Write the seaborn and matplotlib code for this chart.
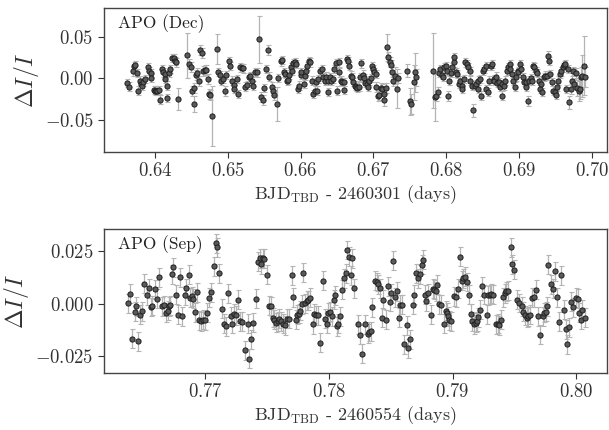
import pandas as pd
import seaborn as sns
import matplotlib.pyplot as plt
from matplotlib.ticker import ScalarFormatter

sns.set_theme(style="ticks")
plt.rcParams['font.family'] = 'serif'
plt.rcParams['font.serif'] = ['cmr10']
plt.rcParams['mathtext.fontset'] = 'cm'
plt.rcParams['axes.formatter.use_mathtext'] = True

# ---- December run (top panel) ----
dec_t = [
    0.6362, 0.6364, 0.6369, 0.6371, 0.6373, 0.6375, 0.6377, 0.6379, 0.6380, 0.6382,
    0.6384, 0.6386, 0.6390, 0.6392, 0.6394, 0.6395, 0.6398, 0.6400, 0.6401, 0.6403,
    0.6405, 0.6407, 0.6409, 0.6411, 0.6413, 0.6414, 0.6416, 0.6417, 0.6419, 0.6421,
    0.6423, 0.6426, 0.6428, 0.6429, 0.6431, 0.6444, 0.6447, 0.6449, 0.6451, 0.6453,
    0.6454, 0.6456, 0.6458, 0.6460, 0.6462, 0.6464, 0.6466, 0.6468, 0.6470, 0.6473,
    0.6474, 0.6476, 0.6478, 0.6485, 0.6487, 0.6489, 0.6491, 0.6493, 0.6496, 0.6497,
    0.6501, 0.6503, 0.6505, 0.6508, 0.6509, 0.6512, 0.6514, 0.6516, 0.6519, 0.6521,
    0.6524, 0.6526, 0.6529, 0.6531, 0.6533, 0.6535, 0.6537, 0.6540, 0.6543, 0.6546,
    0.6548, 0.6550, 0.6553, 0.6555, 0.6557, 0.6560, 0.6562, 0.6564, 0.6567, 0.6569,
    0.6573, 0.6575, 0.6577, 0.6579, 0.6581, 0.6583, 0.6584, 0.6586, 0.6588, 0.6590,
    0.6592, 0.6594, 0.6596, 0.6598, 0.6600, 0.6601, 0.6604, 0.6606, 0.6607, 0.6609,
    0.6611, 0.6613, 0.6615, 0.6617, 0.6619, 0.6621, 0.6622, 0.6624, 0.6627, 0.6629,
    0.6631, 0.6633, 0.6635, 0.6637, 0.6638, 0.6640, 0.6642, 0.6644, 0.6646, 0.6648,
    0.6650, 0.6652, 0.6653, 0.6655, 0.6657, 0.6659, 0.6660, 0.6663, 0.6665, 0.6667,
    0.6669, 0.6671, 0.6672, 0.6674, 0.6676, 0.6678, 0.6680, 0.6681, 0.6683, 0.6685,
    0.6687, 0.6689, 0.6691, 0.6692, 0.6694, 0.6696, 0.6698, 0.6699, 0.6701, 0.6703,
    0.6704, 0.6706, 0.6708, 0.6710, 0.6712, 0.6714, 0.6715, 0.6717, 0.6719, 0.6720,
    0.6722, 0.6724, 0.6725, 0.6727, 0.6730, 0.6732, 0.6734, 0.6746, 0.6750, 0.6752,
    0.6755, 0.6757, 0.6758, 0.6782, 0.6784, 0.6786, 0.6788, 0.6790, 0.6792, 0.6794,
    0.6795, 0.6797, 0.6799, 0.6801,
    0.6802, 0.6804, 0.6806, 0.6808, 0.6810, 0.6811, 0.6813, 0.6815, 0.6817, 0.6819,
    0.6821, 0.6822, 0.6824, 0.6826, 0.6828, 0.6830, 0.6832, 0.6833, 0.6835, 0.6837,
    0.6839, 0.6841, 0.6843, 0.6844, 0.6846, 0.6848, 0.6850, 0.6852, 0.6854, 0.6855,
    0.6857, 0.6859, 0.6861, 0.6863, 0.6865, 0.6866, 0.6868, 0.6870, 0.6872, 0.6874,
    0.6876, 0.6877, 0.6879, 0.6881, 0.6883, 0.6885, 0.6887, 0.6888, 0.6890, 0.6892,
    0.6894, 0.6896, 0.6898, 0.6899, 0.6901, 0.6903, 0.6905, 0.6907, 0.6909, 0.6910,
    0.6912, 0.6914, 0.6916, 0.6918, 0.6919, 0.6921, 0.6923, 0.6925, 0.6927, 0.6929,
    0.6930, 0.6932, 0.6934, 0.6936, 0.6938, 0.6940, 0.6941, 0.6943, 0.6945, 0.6947,
    0.6949, 0.6951, 0.6952, 0.6954, 0.6956, 0.6958, 0.6960, 0.6962, 0.6963, 0.6965,
    0.6967, 0.6969, 0.6971, 0.6973, 0.6974, 0.6976, 0.6978, 0.6980, 0.6982, 0.6984,
    0.6985, 0.6987, 0.6989, 0.6991,
]
dec_flux = [
    -0.0060, -0.0099, 0.0083, 0.0143, 0.0159, 0.0060, -0.0147, -0.0028, -0.0067, -0.0087,
    -0.0048, -0.0008, 0.0139, 0.0091, 0.0060, 0.0004, -0.0139, -0.0147, -0.0147, -0.0147,
    -0.0139, -0.0254, 0.0111, 0.0071, 0.0052, -0.0008, -0.0234, -0.0087, 0.0060, 0.0111,
    0.0242, 0.0242, 0.0210, 0.0191, -0.0250, 0.0278, 0.0171, 0.0131, -0.0155, -0.0306,
    -0.0115, 0.0044, 0.0060, -0.0028, 0.0341, 0.0306, 0.0091, 0.0099, 0.0103, -0.0012,
    -0.0187, -0.0195, -0.0449, 0.0349, 0.0079, 0.0036, -0.0028, -0.0012, -0.0155, 0.0036,
    0.0202, 0.0147, -0.0028, -0.0075, -0.0127, -0.0012, -0.0187, 0.0131, 0.0123, 0.0119,
    -0.0099, -0.0083, 0.0012, 0.0028, -0.0036, -0.0087, 0.0079, 0.0071, 0.0468, -0.0226,
    -0.0258, -0.0115, 0.0111, 0.0337, 0.0020, -0.0099, -0.0155, -0.0199, -0.0306, 0.0004,
    0.0202, 0.0218, 0.0071, 0.0052, -0.0028, -0.0020, 0.0044, 0.0131, 0.0091, 0.0179,
    0.0191, 0.0171, -0.0127, -0.0087, 0.0044, 0.0071, -0.0067, 0.0032, 0.0091, 0.0151,
    0.0210, 0.0191, -0.0028, -0.0187, -0.0147, -0.0048, -0.0147, -0.0008, 0.0091, 0.0111,
    0.0012, -0.0028, 0.0020, -0.0167, -0.0028, 0.0012, -0.0028, -0.0008, 0.0111, 0.0187,
    -0.0147, 0.0071, 0.0191, -0.0028, -0.0048, -0.0139, -0.0048, 0.0230, 0.0210, 0.0151,
    0.0032, 0.0012, -0.0048, -0.0087, -0.0107, -0.0115, -0.0099, 0.0012, 0.0179, 0.0044,
    0.0004, -0.0060, -0.0067, -0.0107, -0.0028, 0.0004, 0.0151, 0.0111, 0.0071, 0.0052,
    -0.0099, -0.0206, -0.0195, -0.0115, -0.0127, -0.0187, -0.0258, -0.0115, 0.0369, 0.0250,
    0.0191, 0.0163, 0.0071, -0.0028, 0.0032, -0.0123, 0.0004, 0.0091, -0.0274, -0.0306,
    -0.0048, 0.0071, 0.0012, 0.0091, -0.0226, -0.0206, -0.0167, 0.0060, 0.0111, 0.0044,
    0.0012, 0.0139, 0.0151, 0.0091,
    -0.0210, -0.0028, 0.0060, 0.0131, 0.0191, 0.0250, 0.0071, 0.0052, -0.0067, -0.0028,
    -0.0087, -0.0127, -0.0008, 0.0191, 0.0171, 0.0131, 0.0091, -0.0028, -0.0087, -0.0385,
    -0.0087, -0.0067, -0.0127, -0.0028, -0.0008, -0.0206, 0.0091, 0.0111, 0.0151, -0.0127,
    -0.0167, -0.0028, 0.0151, 0.0171, -0.0008, -0.0028, 0.0020, -0.0060, -0.0048, -0.0107,
    -0.0067, -0.0206, -0.0087, -0.0028, 0.0091, 0.0131, 0.0171, 0.0111, 0.0052, -0.0028,
    -0.0099, 0.0012, 0.0091, 0.0071, 0.0171, 0.0111, 0.0012, -0.0048, -0.0107, -0.0048,
    -0.0266, -0.0028, 0.0004, -0.0028, 0.0151, 0.0131, 0.0091, 0.0060, -0.0028, -0.0127,
    -0.0067, -0.0167, 0.0012, 0.0032, 0.0032, 0.0270, 0.0210, 0.0052, -0.0048, -0.0147,
    -0.0167, -0.0195, -0.0107, -0.0028, 0.0052, 0.0083, 0.0131, 0.0163, 0.0171, -0.0127,
    0.0111, -0.0286, -0.0127, -0.0028, 0.0091, -0.0067, 0.0060, -0.0115, -0.0147, -0.0127,
    0.0012, 0.0032, 0.0151, 0.0020,
]
dec_err = [
    0.005, 0.005, 0.005, 0.005, 0.005, 0.005, 0.005, 0.005, 0.005, 0.005,
    0.005, 0.005, 0.005, 0.005, 0.005, 0.005, 0.005, 0.005, 0.005, 0.005,
    0.005, 0.005, 0.005, 0.005, 0.005, 0.005, 0.005, 0.005, 0.005, 0.005,
    0.005, 0.005, 0.005, 0.005, 0.013, 0.027, 0.006, 0.006, 0.006, 0.010,
    0.006, 0.006, 0.006, 0.006, 0.006, 0.006, 0.006, 0.006, 0.006, 0.006,
    0.006, 0.006, 0.036, 0.018, 0.005, 0.005, 0.005, 0.005, 0.006, 0.005,
    0.005, 0.005, 0.005, 0.005, 0.005, 0.005, 0.005, 0.005, 0.005, 0.005,
    0.005, 0.005, 0.005, 0.005, 0.005, 0.005, 0.005, 0.005, 0.028, 0.006,
    0.006, 0.005, 0.005, 0.006, 0.005, 0.005, 0.005, 0.006, 0.020, 0.005,
    0.005, 0.005, 0.005, 0.005, 0.005, 0.005, 0.005, 0.005, 0.005, 0.005,
    0.005, 0.005, 0.005, 0.005, 0.005, 0.005, 0.005, 0.005, 0.005, 0.005,
    0.005, 0.005, 0.005, 0.005, 0.005, 0.005, 0.005, 0.005, 0.005, 0.005,
    0.005, 0.005, 0.005, 0.005, 0.005, 0.005, 0.005, 0.005, 0.005, 0.005,
    0.005, 0.005, 0.005, 0.005, 0.005, 0.005, 0.005, 0.005, 0.005, 0.005,
    0.005, 0.005, 0.005, 0.005, 0.005, 0.005, 0.005, 0.005, 0.005, 0.005,
    0.005, 0.005, 0.005, 0.005, 0.005, 0.005, 0.005, 0.005, 0.005, 0.005,
    0.006, 0.006, 0.006, 0.006, 0.006, 0.006, 0.007, 0.006, 0.016, 0.006,
    0.006, 0.006, 0.006, 0.006, 0.010, 0.023, 0.006, 0.008, 0.016, 0.012,
    0.021, 0.023, 0.010, 0.045, 0.028, 0.006, 0.006, 0.005, 0.005, 0.005,
    0.005, 0.005, 0.005, 0.005,
    0.006, 0.005, 0.005, 0.005, 0.005, 0.005, 0.005, 0.005, 0.005, 0.005,
    0.005, 0.005, 0.005, 0.005, 0.005, 0.005, 0.005, 0.005, 0.005, 0.008,
    0.005, 0.005, 0.005, 0.005, 0.005, 0.005, 0.005, 0.005, 0.005, 0.005,
    0.005, 0.005, 0.005, 0.005, 0.005, 0.005, 0.005, 0.005, 0.005, 0.005,
    0.005, 0.005, 0.005, 0.005, 0.005, 0.005, 0.005, 0.005, 0.005, 0.005,
    0.005, 0.005, 0.005, 0.005, 0.005, 0.005, 0.005, 0.005, 0.005, 0.005,
    0.006, 0.005, 0.005, 0.005, 0.005, 0.005, 0.005, 0.005, 0.005, 0.005,
    0.005, 0.005, 0.005, 0.005, 0.005, 0.006, 0.005, 0.005, 0.005, 0.005,
    0.005, 0.005, 0.005, 0.005, 0.005, 0.005, 0.005, 0.005, 0.005, 0.005,
    0.005, 0.008, 0.006, 0.005, 0.005, 0.006, 0.006, 0.010, 0.012, 0.012,
    0.012, 0.025, 0.035, 0.012,
]

# ---- September run (bottom panel) ----
sep_t = [
    0.76377, 0.76388, 0.76404, 0.76426, 0.76439, 0.76458, 0.76474, 0.76488, 0.76506, 0.76523,
    0.76539, 0.76558, 0.76571, 0.76593, 0.76606, 0.76625, 0.76652, 0.76666, 0.76679, 0.76693,
    0.76706, 0.76714, 0.76733, 0.76738, 0.76763, 0.76779, 0.76795, 0.76814, 0.76833, 0.76844,
    0.76865, 0.76876, 0.76889, 0.76903, 0.76916, 0.76933, 0.76951, 0.76962, 0.76978, 0.76995,
    0.77011, 0.77030, 0.77043, 0.77065, 0.77084, 0.77097, 0.77113, 0.77132, 0.77151, 0.77165,
    0.77186, 0.77205, 0.77218, 0.77232, 0.77245, 0.77264, 0.77280, 0.77299, 0.77318, 0.77340,
    0.77353, 0.77372, 0.77388, 0.77407, 0.77426, 0.77440, 0.77453, 0.77467, 0.77475, 0.77494,
    0.77515, 0.77529, 0.77545, 0.77556, 0.77569, 0.77583, 0.77596,
    0.77615, 0.77631, 0.77642, 0.77658, 0.77677, 0.77696, 0.77712, 0.77731, 0.77739, 0.77755,
    0.77766, 0.77779, 0.77793, 0.77806, 0.77820, 0.77833, 0.77847, 0.77866, 0.77879, 0.77898,
    0.77912, 0.77928, 0.77947, 0.77966, 0.77982, 0.77995, 0.78009, 0.78022, 0.78036, 0.78049,
    0.78063, 0.78076, 0.78090, 0.78103, 0.78117, 0.78135, 0.78149, 0.78162, 0.78176, 0.78189,
    0.78203, 0.78235, 0.78251, 0.78270, 0.78292, 0.78311, 0.78324, 0.78338, 0.78351, 0.78370,
    0.78386, 0.78397, 0.78411, 0.78427, 0.78440, 0.78459, 0.78473, 0.78489, 0.78505, 0.78521,
    0.78532, 0.78548, 0.78562, 0.78575, 0.78589, 0.78607, 0.78629, 0.78640, 0.78656, 0.78675,
    0.78688, 0.78707, 0.78721, 0.78734, 0.78748, 0.78761, 0.78775, 0.78788, 0.78802, 0.78823,
    0.78839, 0.78850, 0.78864, 0.78877, 0.78891, 0.78909, 0.78926, 0.78942, 0.78953, 0.78963,
    0.78974, 0.78990, 0.79012, 0.79025, 0.79044, 0.79060, 0.79074, 0.79087, 0.79098, 0.79114,
    0.79131, 0.79147, 0.79160, 0.79174, 0.79185, 0.79195, 0.79206, 0.79222, 0.79241, 0.79255,
    0.79274, 0.79287, 0.79303, 0.79314, 0.79330, 0.79349, 0.79363, 0.79376, 0.79390, 0.79411,
    0.79422, 0.79435, 0.79449, 0.79470, 0.79484, 0.79497, 0.79519, 0.79538, 0.79557, 0.79573,
    0.79584, 0.79600, 0.79611, 0.79622, 0.79638, 0.79654, 0.79673, 0.79692, 0.79708, 0.79727,
    0.79740, 0.79754, 0.79767, 0.79775, 0.79794, 0.79813, 0.79826, 0.79843, 0.79862, 0.79875,
    0.79897, 0.79915, 0.79929, 0.79943, 0.79961, 0.79977, 0.79996, 0.80010, 0.80023, 0.80037,
    0.80050, 0.80069,
]
sep_flux = [
    0.0002, 0.0047, -0.0166, -0.0039, -0.0013, -0.0178, -0.0052, -0.0036, 0.0095, 0.0039,
    0.0074, -0.0016, -0.0009, 0.0069, 0.0024, 0.0125, -0.0013, -0.0008, -0.0044, -0.0033,
    -0.0013, -0.0008, 0.0140, 0.0172, 0.0043, -0.0052, 0.0125, -0.0060, 0.0039, 0.0074,
    0.0137, 0.0027, 0.0035, 0.0024, -0.0041, 0.0054, -0.0080, -0.0084, -0.0076, -0.0080,
    -0.0044, 0.0027, 0.0054, 0.0177, 0.0287, 0.0267, 0.0145, -0.0024, -0.0096, -0.0107,
    0.0050, -0.0060, -0.0096, -0.0049, -0.0055, 0.0019, -0.0084, -0.0087, -0.0222, -0.0096,
    -0.0262, -0.0170, -0.0091, 0.0024, 0.0200, 0.0216, 0.0188, 0.0216, 0.0213, 0.0137,
    -0.0009, -0.0013, -0.0068, -0.0076, -0.0091, -0.0084, -0.0071,
    -0.0084, -0.0096, -0.0103, -0.0071, -0.0071, 0.0134, 0.0030, -0.0076, -0.0052, -0.0049,
    -0.0033, -0.0002, 0.0148, 0.0002, 0.0014, 0.0017, 0.0027, -0.0099, -0.0049, -0.0055,
    -0.0055, -0.0186, 0.0109, -0.0071, -0.0096, -0.0044, -0.0039, -0.0060, 0.0019, 0.0039,
    -0.0107, -0.0096, -0.0060, 0.0066, 0.0121, 0.0145, 0.0255, 0.0224, 0.0134, 0.0216,
    0.0074, -0.0099, -0.0147, -0.0238, -0.0099, -0.0144, -0.0134, -0.0131, -0.0017, 0.0109,
    0.0103, 0.0093, 0.0074, -0.0068, 0.0019, -0.0076, 0.0082, 0.0008, 0.0050, 0.0203,
    0.0030, 0.0058, -0.0068, -0.0005, -0.0005, -0.0194, -0.0103, -0.0213, -0.0170, -0.0005,
    0.0043, 0.0145, 0.0121, 0.0140, 0.0185, 0.0208, 0.0043, 0.0011, 0.0050, -0.0052,
    0.0071, 0.0066, 0.0058, 0.0090, -0.0002, -0.0005, -0.0096, -0.0033, -0.0044, -0.0060,
    -0.0079, -0.0084, 0.0035, 0.0030, 0.0071, 0.0224, 0.0109, 0.0121, 0.0129, 0.0103,
    0.0043, -0.0049, -0.0084, -0.0099, -0.0091, -0.0084, -0.0065, -0.0028, 0.0082, 0.0043,
    -0.0052, 0.0039, 0.0043, 0.0046, 0.0043, -0.0099, -0.0096, -0.0103, -0.0076, 0.0030,
    0.0050, 0.0058, 0.0062, 0.0267, 0.0188, 0.0161, 0.0019, 0.0003, -0.0013, -0.0039,
    -0.0055, -0.0068, -0.0060, -0.0052, 0.0027, 0.0030, 0.0066, -0.0060, -0.0147, -0.0060,
    -0.0044, -0.0039, -0.0013, 0.0185, 0.0093, 0.0071, 0.0153, 0.0030, -0.0087, 0.0134,
    -0.0028, -0.0123, -0.0194, -0.0112, 0.0008, -0.0017, 0.0027, 0.0024, -0.0044, -0.0076,
    -0.0028, -0.0068,
]
sep_err = 0.0045  # all Sep bars look the same length

dec = pd.DataFrame({'t': dec_t, 'flux': dec_flux, 'err': dec_err})
sep = pd.DataFrame({'t': sep_t, 'flux': sep_flux})

fig = plt.figure(figsize=(6.09, 4.30), dpi=100)
ax1 = fig.add_axes([0.171, 0.647, 0.826, 0.334])
ax2 = fig.add_axes([0.171, 0.133, 0.826, 0.334])

panels = [
    (ax1, dec, dec['err'], 'APO (Dec)', r'BJD$_{\rm TBD}$ - 2460301 (days)',
     (0.6330, 0.7021), (-0.088, 0.084), [-0.05, 0.0, 0.05], [0.64, 0.65, 0.66, 0.67, 0.68, 0.69, 0.70]),
    (ax2, sep, sep_err, 'APO (Sep)', r'BJD$_{\rm TBD}$ - 2460554 (days)',
     (0.7618, 0.8025), (-0.0329, 0.0354), [-0.025, 0.0, 0.025], [0.77, 0.78, 0.79, 0.80]),
]

for ax, df, err, tag, xlab, xl, yl, yt, xt in panels:
    ax.errorbar(df['t'], df['flux'], yerr=err, fmt='none', ecolor='#b4b4b4',
                elinewidth=0.9, capsize=1.8, capthick=0.8, zorder=1)
    sns.scatterplot(x='t', y='flux', data=df, ax=ax, s=14, color='#5a5a5a',
                    edgecolor='#1e1e1e', linewidth=0.7, zorder=2)
    ax.set_xlim(*xl)
    ax.set_ylim(*yl)
    ax.set_yticks(yt)
    ax.set_xticks(xt)
    for axis in (ax.xaxis, ax.yaxis):
        fmt = ScalarFormatter(useMathText=True)
        fmt.set_useOffset(False)
        axis.set_major_formatter(fmt)
    ax.set_xlabel(xlab, fontsize=13, color='#333333', labelpad=2)
    ax.set_ylabel(r'$\Delta I/I$', fontsize=17, color='#333333', labelpad=3)
    ax.tick_params(labelsize=13.5, colors='#333333', length=4, width=0.8)
    for sp in ax.spines.values():
        sp.set_color('#444444')
        sp.set_linewidth(1.0)
    ax.text(0.027, 0.955, tag, transform=ax.transAxes, fontsize=12.5,
            va='top', ha='left', color='#222222')

plt.savefig('out.png', dpi=100)
